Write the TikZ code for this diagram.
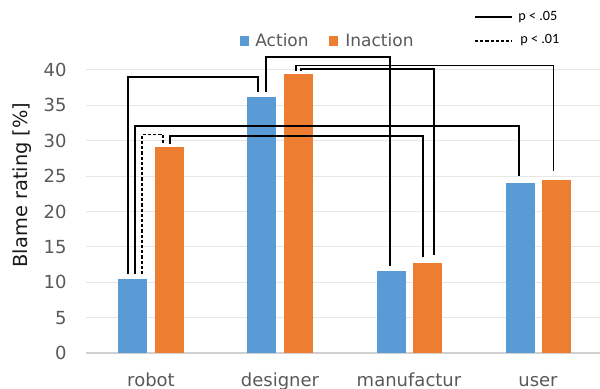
\documentclass[tikz,border=0pt]{standalone}
\usepackage{fontspec}
\setmainfont{DejaVu Sans}
\newfontfamily\calfont{Carlito}
\usetikzlibrary{calc}
\definecolor{actblue}{HTML}{5B9BD5}
\definecolor{inorange}{HTML}{ED7D31}
\definecolor{axtext}{HTML}{595959}
\definecolor{gridc}{HTML}{E6E6E6}
\definecolor{axisc}{HTML}{D0D0D0}
\tikzset{
  barbase/.style={rectangle, inner sep=0pt, minimum width=14.5pt, anchor=south},
  abar/.style={barbase, fill=actblue},
  ibar/.style={barbase, fill=inorange},
  ticklab/.style={anchor=east, inner sep=0pt, text=axtext, font=\fontsize{9}{11}\selectfont},
  catlab/.style={anchor=base, inner sep=0pt, text=axtext, font=\fontsize{9}{11}\selectfont},
  leglab/.style={anchor=west, inner sep=0pt, text=axtext, font=\fontsize{8.5}{10}\selectfont},
  plab/.style={anchor=west, inner sep=0pt, font=\calfont\fontsize{7.1}{8}\selectfont},
  sig/.style={line width=0.55pt, black},
  sigd/.style={line width=0.55pt, black, dash pattern=on 1.6pt off 1pt},
  gridline/.style={line width=0.5pt, gridc},
}
\begin{document}
\begin{tikzpicture}[x=0.5pt, y=0.5pt]
\useasboundingbox (0,0) rectangle (600,389);
\begin{scope}
\clip (0,0) rectangle (600,389);
% gridlines
\foreach \k in {1,...,8} {
  \draw[gridline] (86,{36+35.375*\k}) -- (600,{36+35.375*\k});
}
\draw[line width=0.6pt, axisc] (86,36) -- (600,36);
% tick labels
\foreach \v [count=\k from 0] in {0,5,10,15,20,25,30,35,40} {
  \node[ticklab] (t\v) at (67,{36+35.375*\k}) {\v};
}
% y label
\node[rotate=90, inner sep=0pt, font=\fontsize{9.7}{11}\selectfont, text=black!90] (ylab) at (22,204) {Blame rating [\%]};
% bars
\node[abar, minimum height=37pt]     (ra) at (132.5,36) {};
\node[ibar, minimum height=102.75pt] (ri) at (169,36) {};
\node[abar, minimum height=128pt]    (da) at (261.5,36) {};
\node[ibar, minimum height=139.25pt] (di) at (298.5,36) {};
\node[abar, minimum height=41pt]     (ma) at (391,36) {};
\node[ibar, minimum height=45pt]     (mi) at (427.5,36) {};
\node[abar, minimum height=85pt]     (ua) at (520.5,36) {};
\node[ibar, minimum height=86.5pt]   (ui) at (556.5,36) {};
% category labels
\node[catlab] (crobot) at (151,2) {robot};
\node[catlab] (cdes) at (280,2) {designer};
\node[catlab] (cman) at (409,2) {manufactur};
\node[catlab] (cuser) at (538,2) {user};
% legend
\node[rectangle, fill=actblue, inner sep=0pt, minimum size=4.6pt] (lga) at (244.5,348) {};
\node[leglab] (lgat) at (255,349) {Action};
\node[rectangle, fill=inorange, inner sep=0pt, minimum size=4.6pt] (lgi) at (333.5,348) {};
\node[leglab] (lgit) at (345,349) {Inaction};
% p legend
\coordinate (ps1) at (475,372);
\coordinate (ps2) at (512,372);
\draw[sig] (ps1) -- (ps2);
\node[plab] (p05) at (518,371.5) {p < .05};
\coordinate (pd1) at (475,348);
\coordinate (pd2) at (512,348);
\draw[sigd] (pd1) -- (pd2);
\node[plab] (p01) at (520,349) {p < .01};
% bracket end points
\coordinate (e1a) at ($(ra.north)+(-4.5,4)$);
\coordinate (e1b) at ($(da.north)+(-3.5,4)$);
\coordinate (e2a) at ($(ra.north)+(2.5,4)$);
\coordinate (e2b) at ($(ua.north)+(-1.5,6)$);
\coordinate (e3a) at ($(ra.north)+(9.5,4)$);
\coordinate (e3b) at ($(ri.north)+(-6,3)$);
\coordinate (e4a) at ($(ri.north)+(1,3)$);
\coordinate (e4b) at ($(mi.north)+(-4.5,5)$);
\coordinate (e5a) at ($(da.north)+(4.5,4)$);
\coordinate (e5b) at ($(ma.north)+(-1,4)$);
\coordinate (e6a) at ($(di.north)+(-2.5,3)$);
\coordinate (e6b) at ($(ui.north)+(-3,8)$);
\coordinate (e7a) at ($(di.north)+(2.5,3)$);
\coordinate (e7b) at ($(mi.north)+(6.5,7)$);
% bracket levels
\coordinate (h1) at (0,312);
\coordinate (h2) at (0,263);
\coordinate (h3) at (0,254.5);
\coordinate (h4) at (0,253);
\coordinate (h5) at (0,332);
\coordinate (h6) at (0,323.5);
\coordinate (h7) at (0,320);
% brackets
\draw[sig]  (e1a) -- (e1a |- h1) -- (e1b |- h1) -- (e1b);
\draw[sig]  (e2a) -- (e2a |- h2) -- (e2b |- h2) -- (e2b);
\draw[sigd] (e3a) -- (e3a |- h3) -- (e3b |- h3) -- (e3b);
\draw[sig]  (e4a) -- (e4a |- h4) -- (e4b |- h4) -- (e4b);
\draw[sig]  (e5a) -- (e5a |- h5) -- (e5b |- h5) -- (e5b);
\draw[sig]  (e6a) -- (e6a |- h6) -- (e6b |- h6) -- (e6b);
\draw[sig]  (e7a) -- (e7a |- h7) -- (e7b |- h7) -- (e7b);
\end{scope}
\end{tikzpicture}
\end{document}
